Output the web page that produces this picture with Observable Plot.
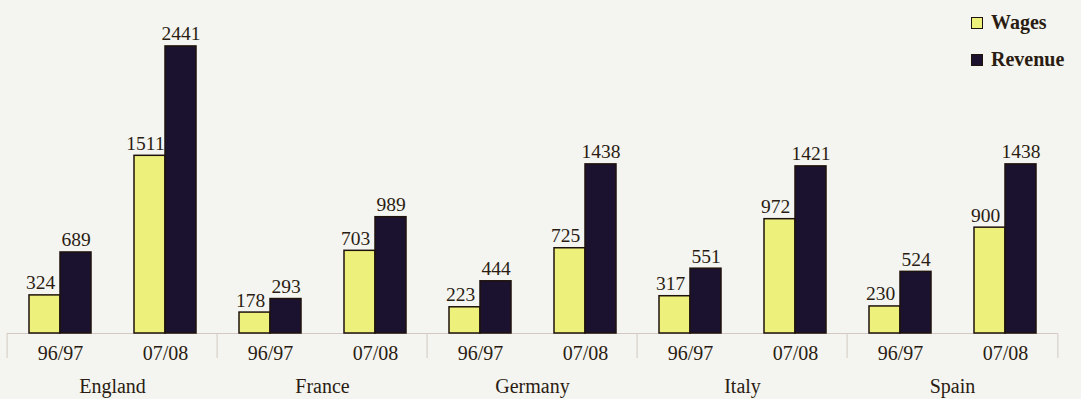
<!DOCTYPE html>
<html>
<head>
<meta charset="utf-8">
<script src="https://cdn.jsdelivr.net/npm/d3@7"></script>
<script src="https://cdn.jsdelivr.net/npm/@observablehq/plot@0.6"></script>
<style>
  html, body { margin: 0; padding: 0; background: #f4f5f0; }
  #wrap { position: relative; width: 1081px; height: 399px; }
  #legend { position: absolute; left: 971px; top: 4px; font-family: "Liberation Serif", serif; font-weight: bold; font-size: 20px; color: #2a1c12; }
  #legend div { display: flex; align-items: center; height: 37px; }
  #legend span.sw { display: inline-block; width: 10px; height: 10px; border: 1.5px solid #1e120c; margin-right: 8px; }
</style>
</head>
<body>
<div id="wrap"><div id="legend"></div></div>
<script>
const countries = ["England", "France", "Germany", "Italy", "Spain"];
const periods = ["96/97", "07/08"];
const wages = [324, 1511, 178, 703, 223, 725, 317, 972, 230, 900];
const revenue = [689, 2441, 293, 989, 444, 1438, 551, 1421, 524, 1438];
const seriesNames = ["Wages", "Revenue"];
const seriesColors = ["#eef07c", "#1b1230"];

const rows = [];
countries.forEach((c, i) => periods.forEach((p, j) => {
  rows.push({country: c, period: p, wages: wages[i * 2 + j], revenue: revenue[i * 2 + j]});
}));

const ink = "#2a1c12";
const font = "Liberation Serif";
const halfBar = 31;

const chart = Plot.plot({
  width: 1081,
  height: 399,
  marginLeft: 5,
  marginRight: 22,
  marginTop: 39,
  marginBottom: 66,
  style: {background: "transparent", fontFamily: font, color: ink},
  fx: {domain: countries, padding: 0, axis: null, label: null},
  x: {domain: periods, paddingInner: 0.41, paddingOuter: 0.205, axis: null, label: null},
  y: {domain: [0, 2500], axis: null},
  marks: [
    Plot.ruleY([0], {stroke: "#d2c9c0", strokeWidth: 1}),
    Plot.barY(rows, {fx: "country", x: "period", y: "wages", fill: seriesColors[0], stroke: "#1e120c", strokeWidth: 1.5, insetRight: halfBar}),
    Plot.barY(rows, {fx: "country", x: "period", y: "revenue", fill: seriesColors[1], stroke: "#1e120c", strokeWidth: 1.5, insetLeft: halfBar}),
    Plot.text(rows, {fx: "country", x: "period", y: "wages", text: d => String(d.wages), dx: -20, dy: -6, lineAnchor: "bottom", fontSize: 19.5, fill: ink}),
    Plot.text(rows, {fx: "country", x: "period", y: "revenue", text: d => String(d.revenue), dx: 15.5, dy: -6, lineAnchor: "bottom", fontSize: 19.5, fill: ink}),
    Plot.axisX({tickSize: 0, tickPadding: 12, fontSize: 20, fill: ink}),
    Plot.axisFx({anchor: "bottom", tickSize: 0, tickPadding: 45, fontSize: 20, fill: ink, label: null}),
    Plot.axisFx({anchor: "bottom", tickSize: 25, text: null, dx: -105.4, stroke: "#d2c9c0", label: null}),
    Plot.axisFx({anchor: "bottom", ticks: ["Spain"], tickSize: 25, text: null, dx: 105.4, stroke: "#d2c9c0", label: null})
  ]
});
document.getElementById("wrap").prepend(chart);

const legend = document.getElementById("legend");
seriesNames.forEach((n, i) => {
  const row = document.createElement("div");
  const sw = document.createElement("span");
  sw.className = "sw";
  sw.style.background = seriesColors[i];
  row.appendChild(sw);
  row.appendChild(document.createTextNode(n));
  legend.appendChild(row);
});
</script>
</body>
</html>
